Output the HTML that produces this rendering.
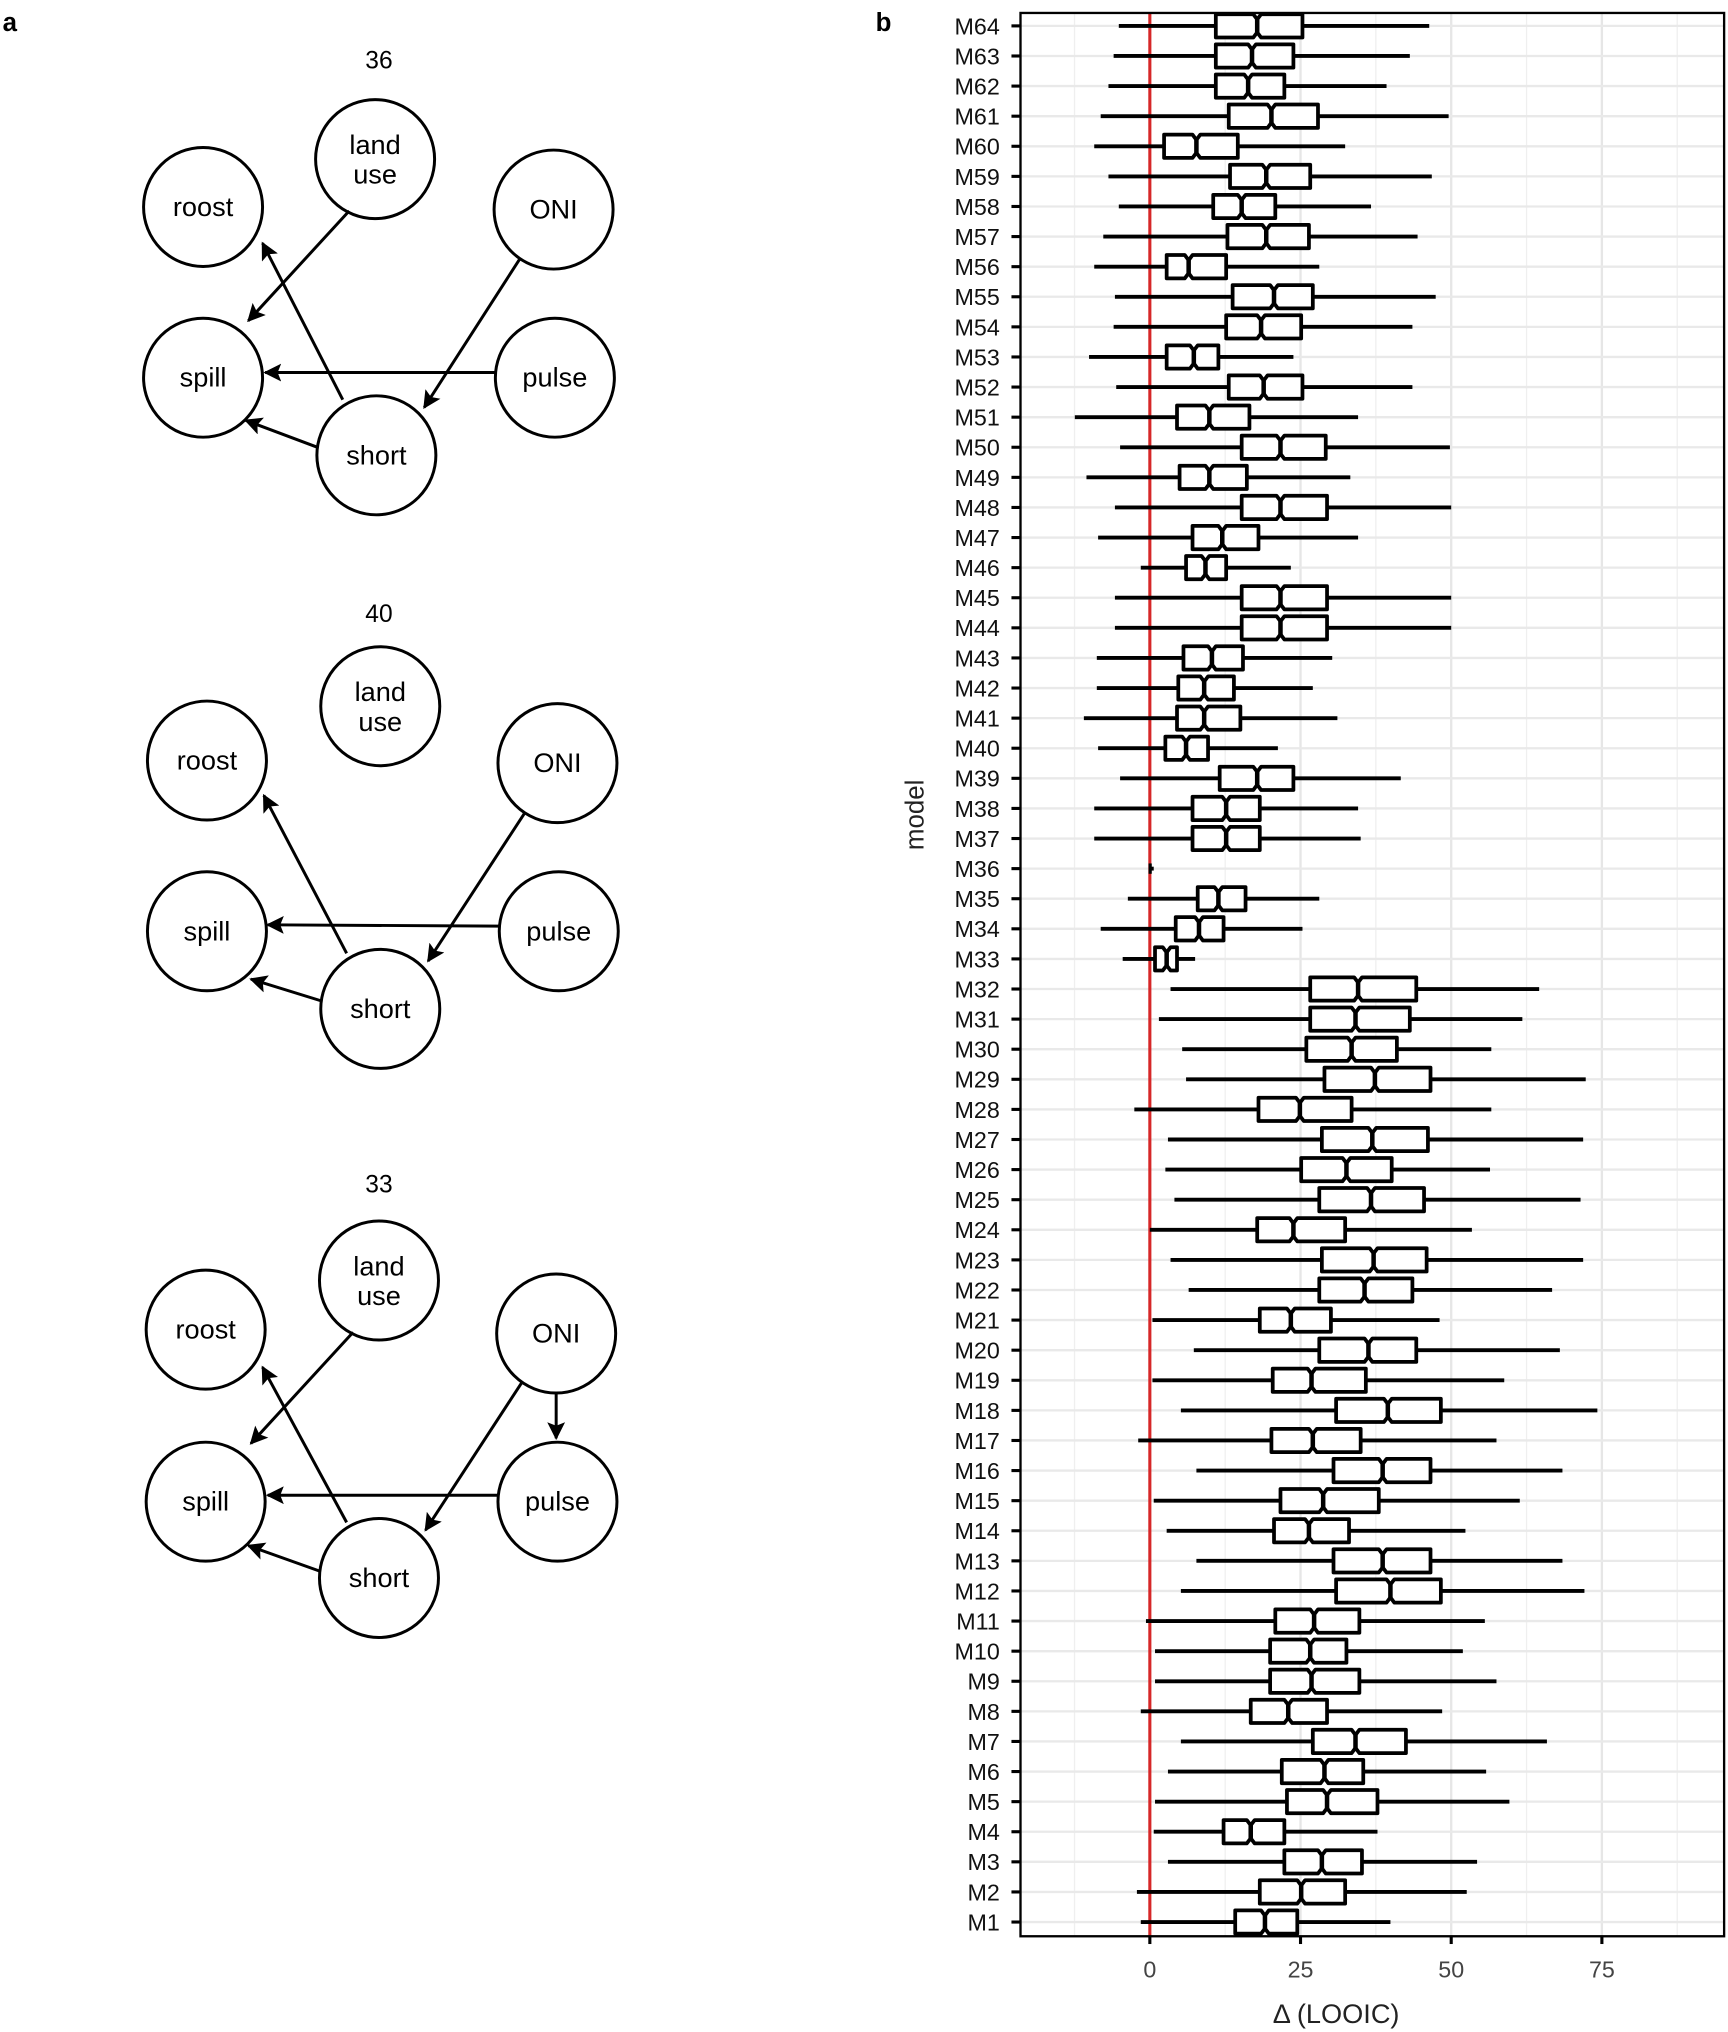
<!DOCTYPE html>
<html><head><meta charset="utf-8"><style>
html,body{margin:0;padding:0;background:#fff}
svg{display:block}
text{font-family:"Liberation Sans",Arial,sans-serif}
</style></head><body>
<svg id="s" width="1728" height="2032" viewBox="0 0 1336 1571" xmlns="http://www.w3.org/2000/svg">
<rect width="1336" height="1571" fill="#fff"/>
<defs><marker id="ah" viewBox="0 0 10 10" refX="9" refY="5" markerWidth="6" markerHeight="6" orient="auto"><path d="M0,0 L10,5 L0,10 L2,5 Z" fill="#000"/></marker></defs>
<text x="2" y="24" font-size="20" font-weight="bold">a</text>
<text x="677" y="24" font-size="20" font-weight="bold">b</text>
<g id="left" fill="none" stroke="#000" stroke-width="2.3"></g>
<g id="plot"></g>
</svg>
<script>
const NS="http://www.w3.org/2000/svg";
function el(p,t,a,txt){const e=document.createElementNS(NS,t);for(const k in a)e.setAttribute(k,a[k]);if(txt!==undefined)e.textContent=txt;p.appendChild(e);return e;}
const svg=document.getElementById('s'),L=document.getElementById('left'),P=document.getElementById('plot');
const graphs=[
 {t:[293,46],n:{roost:[157,160],land:[290,123],ONI:[428,162],spill:[157,292],pulse:[429,292],short:[291,352]},
  a:[[270,163,192,248],[265,309,203,188],[402,200,328,315],[383,288,205,288],[246,346,190,325]],land:true},
 {t:[293,474],n:{roost:[160,588],land:[294,546],ONI:[431,590],spill:[160,720],pulse:[432,720],short:[294,780]},
  a:[[268,737,204,615],[406,628,331,743],[386,716,207,715],[249,774,194,757]]},
 {t:[293,915],n:{roost:[159,1028],land:[293,990],ONI:[430,1031],spill:[159,1161],pulse:[431,1161],short:[293,1220]},
  a:[[273,1030,194,1116],[268,1177,203,1057],[404,1068,329,1183],[430,1077,430,1112],[385,1156,207,1156],[248,1215,192,1195]]}
];
const titles=["36","40","33"];
graphs.forEach((g,i)=>{
 el(svg,'text',{x:g.t[0],y:g.t[1]+7,'font-size':19,'text-anchor':'middle'},titles[i]);
 for(const k in g.n){const [x,y]=g.n[k];el(L,'ellipse',{cx:x,cy:y,rx:46,ry:46});
  if(k==='land'){el(svg,'text',{x:x,y:y-4,'font-size':21,'text-anchor':'middle'},'land');el(svg,'text',{x:x,y:y+19,'font-size':21,'text-anchor':'middle'},'use');}
  else el(svg,'text',{x:x,y:y+7,'font-size':21,'text-anchor':'middle'},k);}
 g.a.forEach(a=>el(L,'line',{x1:a[0],y1:a[1],x2:a[2],y2:a[3],'marker-end':'url(#ah)'}));
});
const px0=789,px1=1333,py0=10,py1=1497;
el(P,'rect',{x:px0,y:py0,width:px1-px0,height:py1-py0,fill:'#fff'});
const X=v=>889+v*4.66;
[-12.5,12.5,37.5,62.5,87.5].forEach(v=>el(P,'line',{x1:X(v),x2:X(v),y1:py0,y2:py1,stroke:'#efefef','stroke-width':1}));
[0,25,50,75].forEach(v=>el(P,'line',{x1:X(v),x2:X(v),y1:py0,y2:py1,stroke:'#e6e6e6','stroke-width':1.8}));
const d=[[865,940,972,1007,1105],[861,940,968,1000,1090],[857,940,965,993,1072],[851,950,983,1019,1120],[846,900,925,957,1040],[857,951,979,1013,1107],[865,938,960,986,1060],[853,949,979,1012,1096],[846,902,919,948,1020],[862,953,985,1015,1110],[861,948,975,1006,1092],[842,902,923,942,1000],[863,950,977,1007,1092],[831,910,935,966,1050],[866,960,990,1025,1121],[840,912,935,964,1044],[862,960,990,1026,1122],[849,922,945,973,1050],[882,917,932,948,998],[862,960,990,1026,1122],[862,960,990,1026,1122],[848,915,937,961,1030],[848,911,931,954,1015],[838,910,931,959,1034],[849,901,917,934,988],[866,943,972,1000,1083],[846,922,948,974,1050],[846,922,948,974,1052],[888,888,889,890,892],[872,926,942,963,1020],[851,909,927,946,1007],[868,893,902,910,924],[905,1013,1050,1095,1190],[896,1013,1048,1090,1177],[914,1010,1045,1080,1153],[917,1024,1063,1106,1226],[877,973,1005,1045,1153],[903,1022,1061,1104,1224],[901,1006,1041,1076,1152],[908,1020,1060,1101,1222],[889,972,1000,1040,1138],[905,1022,1062,1103,1224],[919,1020,1055,1092,1200],[891,974,998,1029,1113],[923,1020,1058,1095,1206],[891,984,1014,1056,1163],[913,1033,1073,1114,1235],[880,983,1015,1052,1157],[925,1031,1069,1106,1208],[892,990,1023,1066,1175],[902,985,1012,1043,1133],[925,1031,1069,1106,1208],[913,1033,1075,1114,1225],[886,986,1016,1051,1148],[893,982,1013,1041,1131],[893,982,1014,1051,1157],[882,967,996,1026,1115],[913,1015,1048,1087,1196],[903,991,1024,1054,1149],[893,995,1026,1065,1167],[892,946,967,993,1065],[903,993,1022,1053,1142],[879,974,1006,1040,1134],[882,955,978,1003,1075]];
const sp=(1486-20)/63;
d.forEach((r,i)=>{const y=20+i*sp;el(P,'line',{x1:px0,x2:px1,y1:y,y2:y,stroke:'#e9e9e9','stroke-width':1.8});});
el(P,'line',{x1:889,x2:889,y1:py0,y2:py1,stroke:'#d62728','stroke-width':2.4});
d.forEach((r,i)=>{const y=20+i*sp,n=64-i,h=9;const [lo,q1,m,q3,hi]=r;
 el(P,'line',{x1:lo,x2:q1,y1:y,y2:y,stroke:'#000','stroke-width':3});
 el(P,'line',{x1:q3,x2:hi,y1:y,y2:y,stroke:'#000','stroke-width':3});
 if(q3-q1<4){el(P,'rect',{x:q1,y:y-4,width:Math.max(q3-q1,2.5),height:8,fill:'#000'});}
 else{const k=3,t=y-h,b=y+h;
 el(P,'path',{d:`M${q1},${t}L${m-k},${t}L${m},${t+4}L${m+k},${t}L${q3},${t}L${q3},${b}L${m+k},${b}L${m},${b-4}L${m-k},${b}L${q1},${b}Z`,fill:'#fff',stroke:'#000','stroke-width':2.9,'stroke-linejoin':'round'});
 el(P,'line',{x1:m,x2:m,y1:t+4,y2:b-4,stroke:'#000','stroke-width':3.5});}
 el(P,'line',{x1:782,x2:px0,y1:y,y2:y,stroke:'#000','stroke-width':2.4});
 el(P,'text',{x:773,y:y+6.5,'font-size':18,'text-anchor':'end',fill:'#111'},'M'+n);
});
el(P,'rect',{x:px0,y:py0,width:px1-px0,height:py1-py0,fill:'none',stroke:'#000','stroke-width':1.8});
[0,25,50,75].forEach(v=>{el(P,'line',{x1:X(v),x2:X(v),y1:py1,y2:py1+6,stroke:'#000','stroke-width':2.4});
 el(P,'text',{x:X(v),y:1529,'font-size':18,'text-anchor':'middle',fill:'#444'},String(v));});
el(P,'text',{x:1033,y:1564,'font-size':21,'text-anchor':'middle',fill:'#222'},'Δ (LOOIC)');
el(P,'text',{x:0,y:0,'font-size':20,'text-anchor':'middle',fill:'#222',transform:'translate(714,630) rotate(-90)'},'model');
</script>
</body></html>
